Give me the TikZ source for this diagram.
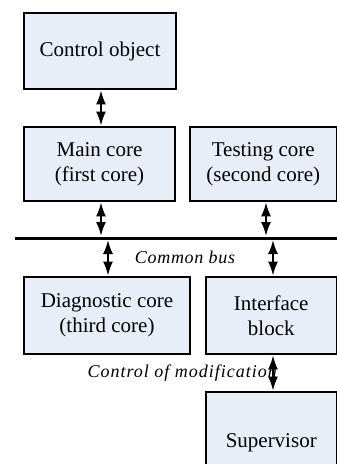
\documentclass[tikz,border=0pt]{standalone}
\usepackage{fontspec}
\setmainfont{Liberation Serif}
\newfontfamily\buslabelfont[LetterSpace=4]{Liberation Serif}
\newfontfamily\modlabelfont[LetterSpace=5.5]{Liberation Serif}
\usetikzlibrary{arrows.meta,calc}
\definecolor{boxfill}{RGB}{232,238,248}
\tikzset{
  block/.style={draw=black, line width=1.8pt, fill=boxfill, align=center,
    font=\fontsize{21}{25}\selectfont, inner sep=0pt},
  link/.style={line width=2pt, {Latex[length=14pt,width=10pt]}-{Latex[length=14pt,width=10pt]}, shorten <=0.5pt, shorten >=0.5pt},
  buslabel/.style={font=\buslabelfont\itshape\fontsize{18}{20}\selectfont, inner sep=0pt},
  modlabel/.style={font=\modlabelfont\itshape\fontsize{18}{20}\selectfont, inner sep=0pt}
}
\begin{document}
\begin{tikzpicture}[x=1pt, y=-1pt]
\useasboundingbox (0,0) rectangle (337,464);
\clip (0,0) rectangle (337,464);

% processing blocks
\node[block, minimum width=152pt, minimum height=76pt] (ctrl) at (100,51) {Control object};
\node[block, minimum width=151pt, minimum height=74pt] (main) at (99.5,164) {Main core\\(first core)};
\node[block, minimum width=146.5pt, minimum height=74pt] (test) at (263.25,164) {Testing core\\(second core)};
\node[block, minimum width=166pt, minimum height=77pt] (diag) at (107,315.5) {Diagnostic core\\(third core)};
\node[block, minimum width=130.5pt, minimum height=77pt] (iface) at (271.25,315.5) {Interface\\block};
\node[block, minimum width=130.5pt, minimum height=102pt] (sup) at (271.25,443) {Supervisor};

% common bus
\coordinate (busL) at (15,238);
\coordinate (busR) at (340,238);
\draw[line width=3pt] (busL) -- (busR);

% links
\coordinate (c1) at ($(ctrl.south)+(1,0)$);
\draw[link] (c1) -- (c1 |- main.north);
\coordinate (m1) at ($(main.south)+(1.5,0)$);
\draw[link] (m1) -- ($(m1 |- busL)+(0,-1.5)$);
\coordinate (t1) at ($(test.south)+(2.75,0)$);
\draw[link] (t1) -- ($(t1 |- busL)+(0,-1.5)$);
\coordinate (d1) at ($(diag.north)+(1,0)$);
\draw[link] ($(d1 |- busL)+(0,1.5)$) -- (d1);
\coordinate (i1) at ($(iface.north)+(1.75,0)$);
\draw[link] ($(i1 |- busL)+(0,1.5)$) -- (i1);
\coordinate (i2) at ($(iface.south)+(1.75,0)$);
\draw[link] (i2) -- (i2 |- sup.north);

% labels
\node[buslabel] (bus) at (185,257) {Common bus};
\node[modlabel, anchor=east] (mod) at (277,373) {Control of modification};
\end{tikzpicture}
\end{document}
